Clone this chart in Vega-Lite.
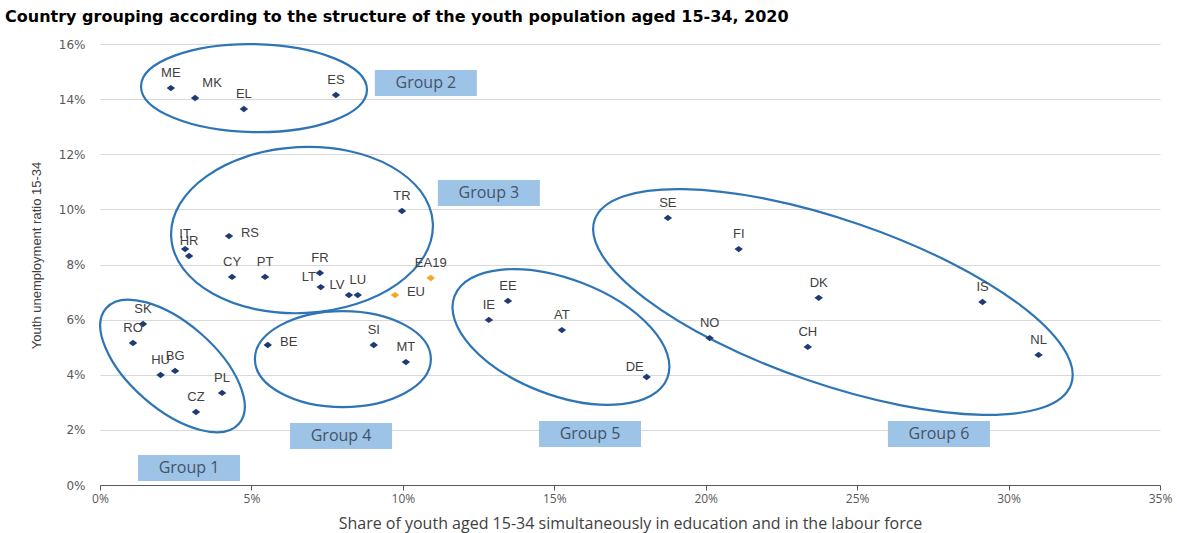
{
  "$schema": "https://vega.github.io/schema/vega-lite/v6.json",
  "width": 1060,
  "height": 441,
  "autosize": {"type": "none"},
  "padding": {"left": 100, "top": 44, "right": 17, "bottom": 48},
  "background": "white",
  "config": {"view": {"stroke": null}},
  "title": {
    "text": "Country grouping according to the structure of the youth population aged 15-34, 2020",
    "anchor": "start",
    "frame": "group",
    "dx": -95,
    "offset": 13,
    "font": "DejaVu Sans",
    "fontSize": 16,
    "fontWeight": "bold",
    "color": "#000000"
  },
  "datasets": {
    "countries": [
      {"code": "ME", "x": 0.0234, "y": 0.1440, "kind": "country"},
      {"code": "MK", "x": 0.0314, "y": 0.1404, "kind": "country"},
      {"code": "EL", "x": 0.0475, "y": 0.1364, "kind": "country"},
      {"code": "ES", "x": 0.0779, "y": 0.1415, "kind": "country"},
      {"code": "TR", "x": 0.0997, "y": 0.0994, "kind": "country"},
      {"code": "IT", "x": 0.0281, "y": 0.0856, "kind": "country"},
      {"code": "HR", "x": 0.0294, "y": 0.0831, "kind": "country"},
      {"code": "RS", "x": 0.0426, "y": 0.0903, "kind": "country"},
      {"code": "CY", "x": 0.0436, "y": 0.0755, "kind": "country"},
      {"code": "PT", "x": 0.0545, "y": 0.0755, "kind": "country"},
      {"code": "FR", "x": 0.0726, "y": 0.0769, "kind": "country"},
      {"code": "LT", "x": 0.0729, "y": 0.0718, "kind": "country"},
      {"code": "LV", "x": 0.0822, "y": 0.0689, "kind": "country"},
      {"code": "LU", "x": 0.0851, "y": 0.0689, "kind": "country"},
      {"code": "EU", "x": 0.0974, "y": 0.0689, "kind": "aggregate"},
      {"code": "EA19", "x": 0.1092, "y": 0.0751, "kind": "aggregate"},
      {"code": "BE", "x": 0.0554, "y": 0.0508, "kind": "country"},
      {"code": "SI", "x": 0.0904, "y": 0.0508, "kind": "country"},
      {"code": "MT", "x": 0.1010, "y": 0.0446, "kind": "country"},
      {"code": "SK", "x": 0.0142, "y": 0.0584, "kind": "country"},
      {"code": "RO", "x": 0.0109, "y": 0.0515, "kind": "country"},
      {"code": "HU", "x": 0.0200, "y": 0.0399, "kind": "country"},
      {"code": "BG", "x": 0.0248, "y": 0.0414, "kind": "country"},
      {"code": "PL", "x": 0.0403, "y": 0.0334, "kind": "country"},
      {"code": "CZ", "x": 0.0317, "y": 0.0265, "kind": "country"},
      {"code": "EE", "x": 0.1347, "y": 0.0668, "kind": "country"},
      {"code": "IE", "x": 0.1284, "y": 0.0599, "kind": "country"},
      {"code": "AT", "x": 0.1525, "y": 0.0562, "kind": "country"},
      {"code": "DE", "x": 0.1805, "y": 0.0392, "kind": "country"},
      {"code": "SE", "x": 0.1875, "y": 0.0969, "kind": "country"},
      {"code": "FI", "x": 0.2109, "y": 0.0856, "kind": "country"},
      {"code": "DK", "x": 0.2373, "y": 0.0679, "kind": "country"},
      {"code": "IS", "x": 0.2914, "y": 0.0664, "kind": "country"},
      {"code": "NO", "x": 0.2013, "y": 0.0533, "kind": "country"},
      {"code": "CH", "x": 0.2337, "y": 0.0501, "kind": "country"},
      {"code": "NL", "x": 0.3099, "y": 0.0472, "kind": "country"}
    ],
    "ellipses": [
      {"group": "Group 1", "x": 0.02394, "y": 0.0432},
      {"group": "Group 2", "x": 0.05085, "y": 0.1440},
      {"group": "Group 3", "x": 0.0667, "y": 0.0925},
      {"group": "Group 4", "x": 0.0802, "y": 0.0457},
      {"group": "Group 5", "x": 0.1522, "y": 0.0537},
      {"group": "Group 6", "x": 0.2420, "y": 0.0664}
    ],
    "labels": [
      {"group": "Group 1", "x": 0.0294, "y": 0.00617},
      {"group": "Group 2", "x": 0.1076, "y": 0.14585},
      {"group": "Group 3", "x": 0.1284, "y": 0.1059},
      {"group": "Group 4", "x": 0.0796, "y": 0.0178},
      {"group": "Group 5", "x": 0.1618, "y": 0.0185},
      {"group": "Group 6", "x": 0.2770, "y": 0.0185}
    ]
  },
  "encoding": {
    "x": {
      "field": "x",
      "type": "quantitative",
      "title": "Share of youth aged 15-34 simultaneously in education and in the labour force",
      "scale": {"domain": [0, 0.35], "nice": false},
      "axis": {
        "values": [0, 0.05, 0.1, 0.15, 0.2, 0.25, 0.3, 0.35],
        "format": ".0%",
        "grid": false,
        "domainColor": "#595959",
        "tickColor": "#595959",
        "tickSize": 5,
        "labelFlush": false,
        "labelFont": "Open Sans",
        "labelFontSize": 12,
        "labelColor": "#595959",
        "labelPadding": 3,
        "titleFont": "Open Sans",
        "titleFontSize": 16,
        "titleFontWeight": "normal",
        "titleColor": "#404040",
        "titlePadding": 11
      }
    },
    "y": {
      "field": "y",
      "type": "quantitative",
      "title": "Youth unemployment ratio 15-34",
      "scale": {"domain": [0, 0.16], "nice": false},
      "axis": {
        "values": [0, 0.02, 0.04, 0.06, 0.08, 0.1, 0.12, 0.14, 0.16],
        "format": ".0%",
        "grid": true,
        "gridColor": "#d9d9d9",
        "domain": false,
        "ticks": false,
        "labelPadding": 15,
        "labelFont": "DejaVu Sans",
        "labelFontSize": 12,
        "labelColor": "#595959",
        "titleFont": "Liberation Sans",
        "titleFontSize": 13,
        "titleFontWeight": "normal",
        "titleColor": "#404040",
        "titlePadding": 15,
        "titleY": 211
      }
    }
  },
  "layer": [
    {
      "data": {"name": "ellipses"},
      "transform": [{"filter": "datum.group === 'Group 1'"}],
      "mark": {"type": "point", "shape": "M -88 0 A 88 43 0 1 0 88 0 A 88 43 0 1 0 -88 0 Z", "size": 4, "angle": 41, "filled": false, "stroke": "#2e75b6", "strokeWidth": 2.2, "opacity": 1}
    },
    {
      "data": {"name": "ellipses"},
      "transform": [{"filter": "datum.group === 'Group 2'"}],
      "mark": {"type": "point", "shape": "M -113 0 A 113 44 0 1 0 113 0 A 113 44 0 1 0 -113 0 Z", "size": 4, "angle": 1, "filled": false, "stroke": "#2e75b6", "strokeWidth": 2.2, "opacity": 1}
    },
    {
      "data": {"name": "ellipses"},
      "transform": [{"filter": "datum.group === 'Group 3'"}],
      "mark": {"type": "point", "shape": "M -131 0 A 131 83 0 1 0 131 0 A 131 83 0 1 0 -131 0 Z", "size": 4, "angle": -3, "filled": false, "stroke": "#2e75b6", "strokeWidth": 2.2, "opacity": 1}
    },
    {
      "data": {"name": "ellipses"},
      "transform": [{"filter": "datum.group === 'Group 4'"}],
      "mark": {"type": "point", "shape": "M -88 0 A 88 48 0 1 0 88 0 A 88 48 0 1 0 -88 0 Z", "size": 4, "angle": 0, "filled": false, "stroke": "#2e75b6", "strokeWidth": 2.2, "opacity": 1}
    },
    {
      "data": {"name": "ellipses"},
      "transform": [{"filter": "datum.group === 'Group 5'"}],
      "mark": {"type": "point", "shape": "M -114 0 A 114 58 0 1 0 114 0 A 114 58 0 1 0 -114 0 Z", "size": 4, "angle": 21, "filled": false, "stroke": "#2e75b6", "strokeWidth": 2.2, "opacity": 1}
    },
    {
      "data": {"name": "ellipses"},
      "transform": [{"filter": "datum.group === 'Group 6'"}],
      "mark": {"type": "point", "shape": "M -252 0 A 252 82 0 1 0 252 0 A 252 82 0 1 0 -252 0 Z", "size": 4, "angle": 19, "filled": false, "stroke": "#2e75b6", "strokeWidth": 2.2, "opacity": 1}
    },
    {
      "data": {"name": "labels"},
      "mark": {"type": "point", "shape": "M -51 -13 H 51 V 13 H -51 Z", "size": 4, "filled": true, "fill": "#9dc3e6", "strokeWidth": 0, "opacity": 1}
    },
    {
      "data": {"name": "labels"},
      "mark": {"type": "text", "font": "Open Sans", "fontSize": 16, "fill": "#44546a", "baseline": "middle", "align": "center"},
      "encoding": {"text": {"field": "group"}}
    },
    {
      "data": {"name": "countries"},
      "mark": {"type": "point", "shape": "M -1 0 L 0 -0.75 L 1 0 L 0 0.75 Z", "size": 72, "filled": true, "opacity": 1, "strokeWidth": 0},
      "encoding": {
        "color": {"field": "kind", "type": "nominal", "scale": {"domain": ["country", "aggregate"], "range": ["#1f3b73", "#f5a623"]}, "legend": null}
      }
    },
    {
      "data": {"name": "countries"},
      "transform": [{"filter": {"not": {"field": "code", "oneOf": ["MK", "RS", "BE", "EU", "LT", "LV", "DE"]}}}],
      "mark": {"type": "text", "font": "Liberation Sans", "fontSize": 13, "fill": "#404040", "dy": -15, "baseline": "middle"},
      "encoding": {"text": {"field": "code"}}
    },
    {
      "data": {"name": "countries"},
      "transform": [{"filter": {"field": "code", "oneOf": ["RS", "BE", "EU"]}}],
      "mark": {"type": "text", "font": "Liberation Sans", "fontSize": 13, "fill": "#404040", "dx": 21, "dy": -3, "baseline": "middle"},
      "encoding": {"text": {"field": "code"}}
    },
    {
      "data": {"name": "countries"},
      "transform": [{"filter": {"field": "code", "oneOf": ["MK"]}}],
      "mark": {"type": "text", "font": "Liberation Sans", "fontSize": 13, "fill": "#404040", "dx": 17, "dy": -15, "baseline": "middle"},
      "encoding": {"text": {"field": "code"}}
    },
    {
      "data": {"name": "countries"},
      "transform": [{"filter": {"field": "code", "oneOf": ["LT", "LV", "DE"]}}],
      "mark": {"type": "text", "font": "Liberation Sans", "fontSize": 13, "fill": "#404040", "dx": -12, "dy": -10, "baseline": "middle"},
      "encoding": {"text": {"field": "code"}}
    }
  ]
}
